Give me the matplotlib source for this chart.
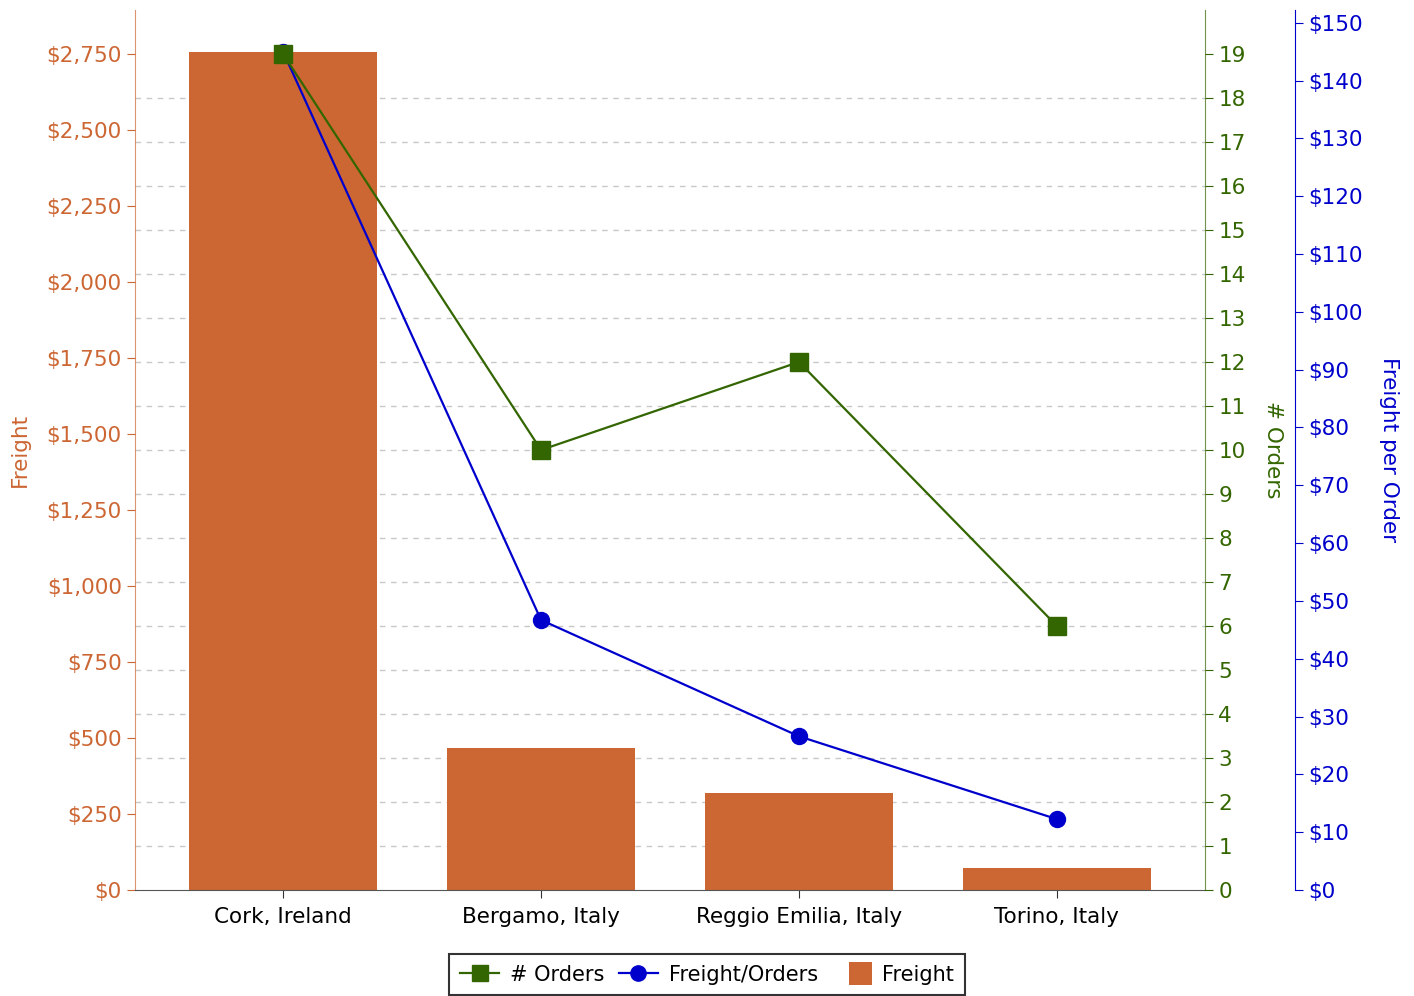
import matplotlib
matplotlib.use("Agg")
import matplotlib.pyplot as plt
from matplotlib.ticker import FuncFormatter, MultipleLocator
from matplotlib.lines import Line2D
from matplotlib.patches import Patch, Rectangle
from matplotlib.legend_handler import HandlerPatch

categories = ["Cork, Ireland", "Bergamo, Italy", "Reggio Emilia, Italy", "Torino, Italy"]
freight = [2755.2, 467.0, 319.0, 73.5]
orders = [19, 10, 12, 6]
freight_per_order = [f / o for f, o in zip(freight, orders)]

C_BAR = "#CC6633"
C_GREEN = "#336600"
C_BLUE = "#0000CC"
FS = 15.5

plt.rcParams['font.family'] = ['DejaVu Sans']
fig = plt.figure(figsize=(14.14, 9.96), dpi=100)
ax = fig.add_axes([135/1414, 1-890/996, (1205-135)/1414, 880/996])

x = list(range(len(categories)))
ax.bar(x, freight, width=0.73, color=C_BAR, zorder=2)
ax.set_xlim(-0.574, 3.574)
ax.set_ylim(0, 2750 * 20 / 19)
ax.yaxis.set_major_locator(MultipleLocator(250))
ax.yaxis.set_major_formatter(FuncFormatter(lambda v, p: f"${v:,.0f}"))
ax.set_xticks(x)
ax.set_xticklabels(categories, fontsize=FS)
ax.set_ylabel("Freight", color=C_BAR, fontsize=FS, labelpad=12)
ax.tick_params(axis='y', colors=C_BAR, labelsize=FS, length=6, direction='out')
ax.tick_params(axis='x', colors='#333333', labelcolor='black', length=6, pad=6)
# grid at orders ticks
ax.set_yticks([k * 2750 / 19 for k in range(20)], minor=True)
ax.tick_params(axis='y', which='minor', length=0)
ax.grid(which='minor', axis='y', linestyle=(0, (4, 4)), color='#c8c8c8', linewidth=1, zorder=0)
ax.set_axisbelow(True)
ax.spines['top'].set_visible(False)
ax.spines['right'].set_visible(False)
ax.spines['left'].set_color(C_BAR)
ax.spines['left'].set_alpha(0.7)
ax.spines['bottom'].set_color('#555555')

# per-order axis (created first so orders draws on top)
ax3 = ax.twinx()
ax3.plot(x, freight_per_order, color=C_BLUE, linewidth=1.6, marker='o', markersize=11.5, zorder=3)
ax3.set_ylim(0, 152.2)
ax3.yaxis.set_major_locator(MultipleLocator(10))
ax3.yaxis.set_major_formatter(FuncFormatter(lambda v, p: f"${v:,.0f}"))
ax3.spines['right'].set_position(('outward', 64.8))
ax3.spines['right'].set_color(C_BLUE)
for s in ['top', 'left', 'bottom']:
    ax3.spines[s].set_visible(False)
ax3.tick_params(axis='y', colors=C_BLUE, labelsize=FS, length=6)
ax3.set_ylabel("Freight per Order", color=C_BLUE, fontsize=FS, rotation=270, labelpad=26)

ax2 = ax.twinx()
ax2.plot(x, orders, color=C_GREEN, linewidth=1.6, marker='s', markersize=13, zorder=4)
ax2.set_ylim(0, 20)
ax2.set_yticks(range(0, 20))
ax2.spines['right'].set_color(C_GREEN)
ax2.spines['right'].set_alpha(0.7)
for s in ['top', 'left', 'bottom']:
    ax2.spines[s].set_visible(False)
ax2.tick_params(axis='y', colors=C_GREEN, labelsize=FS, length=6)
ax2.set_ylabel("# Orders", color=C_GREEN, fontsize=FS, rotation=270, labelpad=27)


def square_patch(legend, orig_handle, xdescent, ydescent, width, height, fontsize):
    side = height * 1.55
    return Rectangle((width - side - xdescent, -ydescent - (side - height) / 2), side, side)


handles = [
    Line2D([], [], color=C_GREEN, marker='s', markersize=11, linewidth=1.6),
    Line2D([], [], color=C_BLUE, marker='o', markersize=11, linewidth=1.6),
    Patch(facecolor=C_BAR),
]
leg = fig.legend(handles, ["# Orders", "Freight/Orders", "Freight"], loc='lower center',
                 bbox_to_anchor=(0.5, 0.0), ncol=3, fontsize=15, fancybox=False,
                 frameon=True, edgecolor='black', handlelength=1.9, columnspacing=0.7,
                 handletextpad=0.5, borderaxespad=0.05, borderpad=0.5,
                 handler_map={Patch: HandlerPatch(patch_func=square_patch)})
leg.get_frame().set_linewidth(1.5)

fig.savefig("out.png", dpi=100)
